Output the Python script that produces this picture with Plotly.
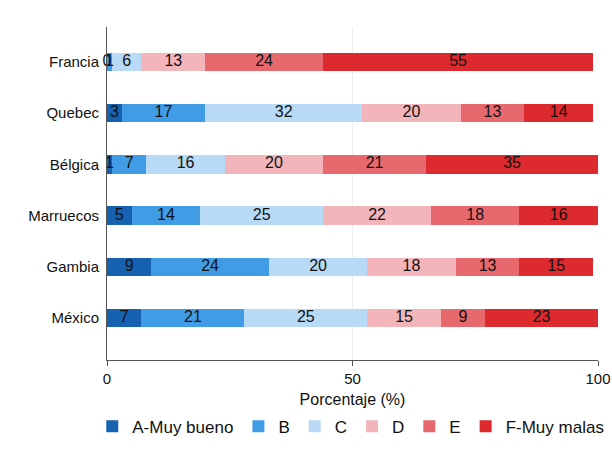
import plotly.graph_objects as go

countries = ["México", "Gambia", "Marruecos", "Bélgica", "Quebec", "Francia"]
series_names = ["A-Muy bueno", "B", "C", "D", "E", "F-Muy malas"]
values = {
    "A-Muy bueno": [7, 9, 5, 1, 3, 0],
    "B":           [21, 24, 14, 7, 17, 1],
    "C":           [25, 20, 25, 16, 32, 6],
    "D":           [15, 18, 22, 20, 20, 13],
    "E":           [9, 13, 18, 21, 13, 24],
    "F-Muy malas": [23, 15, 16, 35, 14, 55],
}
colors = ["#1762b0", "#419ce6", "#b8daf6", "#f3b5b9", "#e7696e", "#dc2a2e"]
x_ticks = [0, 50, 100]

font = "Liberation Sans, Arial, sans-serif"
fig = go.Figure()
for name, col in zip(series_names, colors):
    fig.add_trace(go.Bar(
        y=countries, x=values[name], name=name, orientation="h",
        marker=dict(color=col, line=dict(width=0)),
        width=0.36,
    ))

# segment labels at the middle of each stacked segment
cum = [0] * len(countries)
for name in series_names:
    mids = []
    for i, v in enumerate(values[name]):
        mids.append(cum[i] + v / 2)
        cum[i] += v
    fig.add_trace(go.Scatter(
        y=countries, x=mids, mode="text",
        text=[str(v) for v in values[name]],
        textposition="middle center",
        textfont=dict(color="#111111", size=16, family=font),
        showlegend=False, hoverinfo="skip", cliponaxis=False,
    ))

fig.update_layout(
    barmode="stack",
    width=612, height=454,
    margin=dict(l=107, r=14, t=27, b=94, autoexpand=False),
    plot_bgcolor="white", paper_bgcolor="white",
    font=dict(family=font, size=15, color="#111111"),
    showlegend=True,
    legend=dict(orientation="h", x=-0.03, xanchor="left", xref="paper",
                y=-0.2, yanchor="middle", yref="paper",
                font=dict(size=17), traceorder="normal"),
    bargap=0,
)
fig.update_xaxes(
    range=[0, 100], tickvals=x_ticks, ticktext=[str(t) for t in x_ticks],
    showgrid=True, gridcolor="#eeeeee", gridwidth=1,
    showline=True, linecolor="#555555", linewidth=1,
    ticks="outside", ticklen=5, tickcolor="#555555",
    zeroline=False, automargin=False,
    title=dict(text="Porcentaje (%)", font=dict(size=16), standoff=7),
    tickfont=dict(size=15),
)
fig.update_yaxes(
    range=[-0.82, 5.68], automargin=False,
    showline=True, linecolor="#555555", linewidth=1,
    showgrid=False, ticks="", tickfont=dict(size=15),
    ticklabelstandoff=4,
)
fig.write_html("out.html", config={"displayModeBar": False},
               post_script="document.body.style.margin='0px';")
